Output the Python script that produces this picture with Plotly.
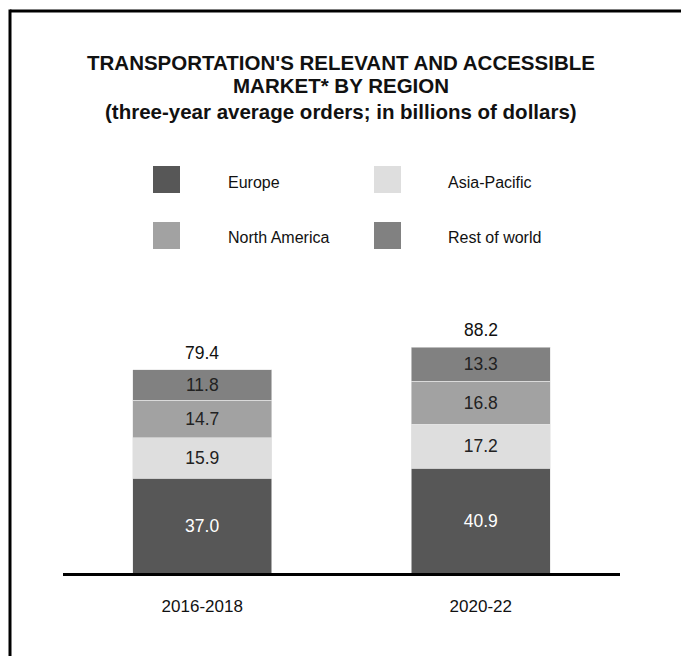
import plotly.graph_objects as go

# Data: three-year average orders, billions of dollars
periods = ["2016-2018", "2020-22"]
regions = ["Europe", "Asia-Pacific", "North America", "Rest of world"]
europe = [37.0, 40.9]
asia_pacific = [15.9, 17.2]
north_america = [14.7, 16.8]
rest_of_world = [11.8, 13.3]
totals = [79.4, 88.2]

series = [europe, asia_pacific, north_america, rest_of_world]
colors = ["#575757", "#dedede", "#a2a2a2", "#818181"]
text_colors = ["#ffffff", "#222222", "#222222", "#222222"]

W, H = 681, 656
ML, MR, MT, MB = 63, 61, 300, 83
PLOT_W = W - ML - MR
PLOT_H = H - MT - MB
PX_PER_UNIT = 2.557
FONT = "Liberation Sans, Arial, sans-serif"


def px_x(p):
    return (p - ML) / PLOT_W


def px_y(p):
    return (H - MB - p) / PLOT_H


fig = go.Figure()
for name, vals, col, tcol in zip(regions, series, colors, text_colors):
    fig.add_trace(go.Bar(
        x=periods, y=vals, name=name,
        marker=dict(color=col, line=dict(color="#e4e4e4", width=0.6)),
        width=0.5,
        text=[f"{v:.1f}" for v in vals],
        texttemplate="%{text}",
        textposition="inside",
        insidetextanchor="middle",
        constraintext="none",
        textangle=0,
        textfont=dict(family=FONT, size=17.5, color=tcol),
        showlegend=False,
        hoverinfo="skip",
    ))

annotations = []
# totals above each bar
for p, t in zip(periods, totals):
    annotations.append(dict(
        x=p, y=t, xref="x", yref="y", text=f"{t:.1f}", showarrow=False,
        yanchor="middle", yshift=17,
        font=dict(family=FONT, size=17.5, color="#111111"),
    ))

# title block
title_lines = [
    ("<b>TRANSPORTATION'S RELEVANT AND ACCESSIBLE</b>", 62),
    ("<b>MARKET* BY REGION</b>", 86),
    ("<b>(three-year average orders; in billions of dollars)</b>", 111),
]
for txt, yc in title_lines:
    annotations.append(dict(
        x=px_x(341), y=px_y(yc), xref="paper", yref="paper", text=txt,
        showarrow=False, xanchor="center", yanchor="middle",
        font=dict(family=FONT, size=20.5, color="#111111"),
    ))

# custom legend: 2 x 2 grid
shapes = []
legend_pos = [(153, 166, 226), (374, 166, 446), (153, 222, 226), (374, 222, 446)]
legend_order = [0, 1, 2, 3]
for idx, (sx, sy, tx) in zip(legend_order, legend_pos):
    shapes.append(dict(
        type="rect", xref="paper", yref="paper",
        x0=px_x(sx), x1=px_x(sx + 27), y0=px_y(sy + 27), y1=px_y(sy),
        fillcolor=colors[idx], line=dict(width=0),
    ))
    annotations.append(dict(
        x=px_x(tx), y=px_y(sy + 16), xref="paper", yref="paper",
        text=regions[idx], showarrow=False, xanchor="left", yanchor="middle",
        font=dict(family=FONT, size=16, color="#111111"),
    ))

# frame along the top and left edges
shapes.append(dict(type="line", xref="paper", yref="paper",
                   x0=px_x(10), x1=px_x(W + 5), y0=px_y(11), y1=px_y(11),
                   line=dict(color="#000000", width=3)))
shapes.append(dict(type="line", xref="paper", yref="paper",
                   x0=px_x(10), x1=px_x(10), y0=px_y(9.5), y1=px_y(H + 5),
                   line=dict(color="#000000", width=3)))

fig.update_layout(
    width=W, height=H,
    margin=dict(l=ML, r=MR, t=MT, b=MB, pad=0),
    barmode="stack",
    plot_bgcolor="#ffffff", paper_bgcolor="#ffffff",
    annotations=annotations, shapes=shapes,
    showlegend=False,
    xaxis=dict(
        type="category", range=[-0.5, 1.5],
        showline=True, linecolor="#000000", linewidth=2.5,
        showgrid=False, zeroline=False,
        ticks="", ticklabelstandoff=16,
        tickfont=dict(family=FONT, size=17, color="#111111"),
    ),
    yaxis=dict(
        range=[0, PLOT_H / PX_PER_UNIT],
        visible=False, showgrid=False, zeroline=False,
    ),
)

fig.write_html("out.html")
